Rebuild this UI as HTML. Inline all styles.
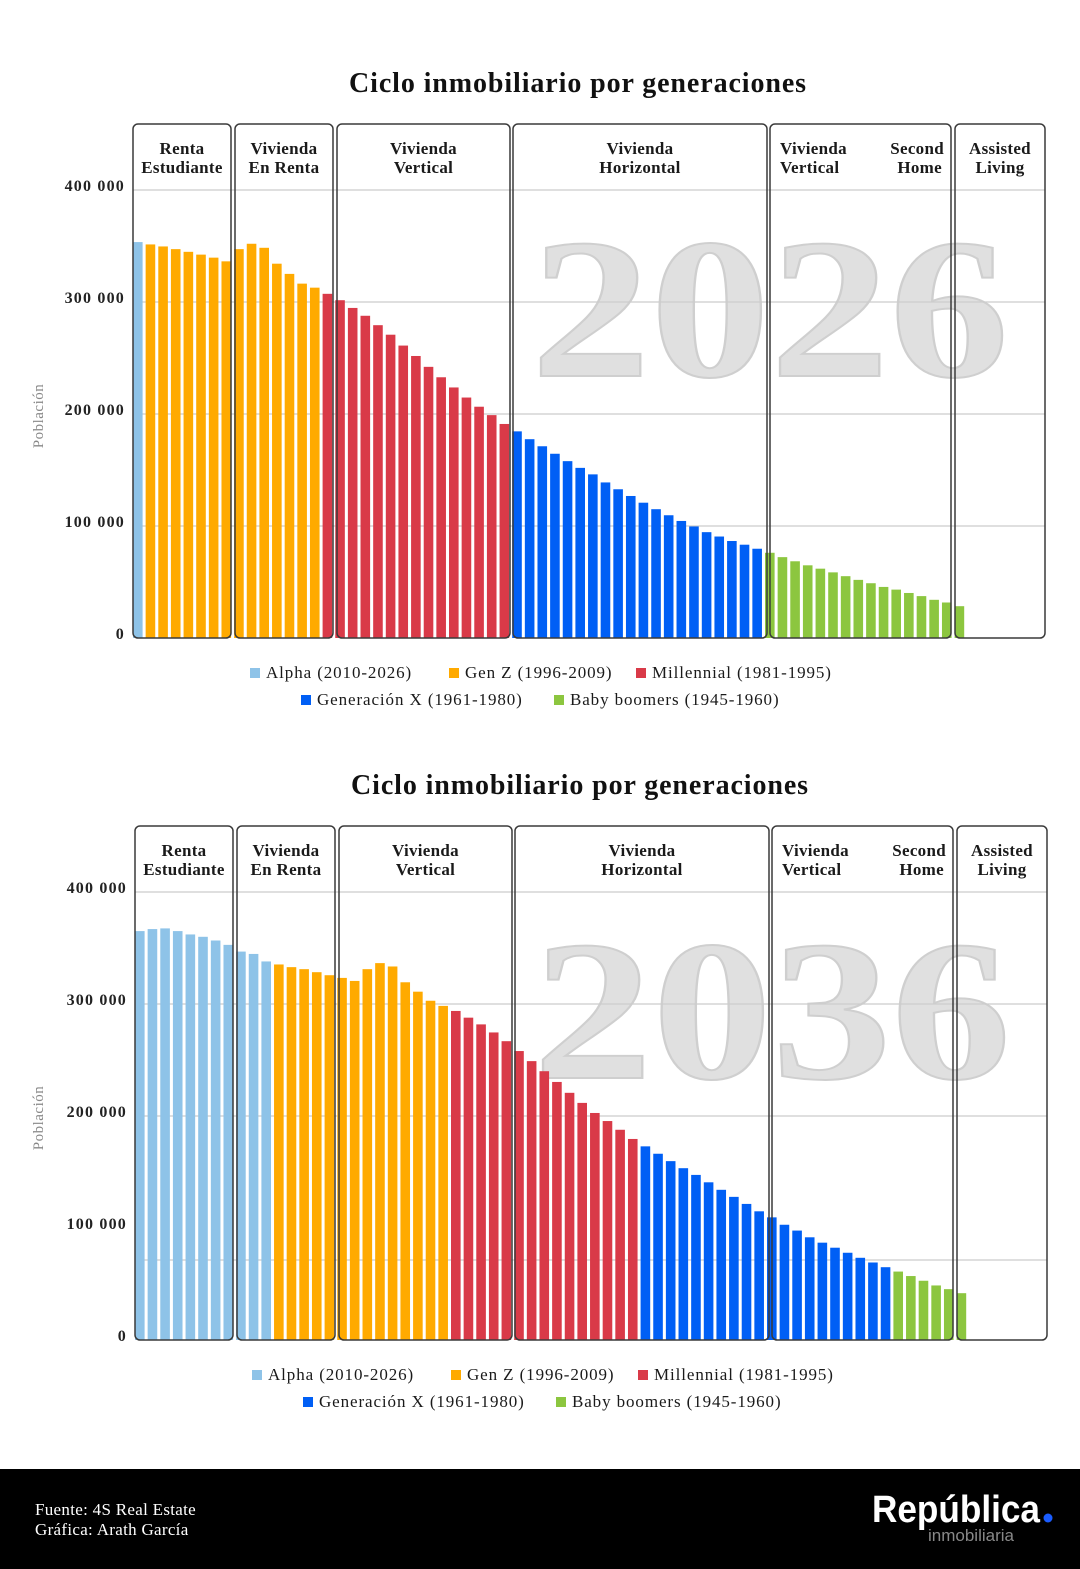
<!DOCTYPE html>
<html><head><meta charset="utf-8">
<style>
html,body{margin:0;padding:0;background:#fff;}
svg{display:block;}
text{font-family:"Liberation Serif","DejaVu Serif",serif;}
</style></head>
<body>
<svg id="root" width="1080" height="1569" viewBox="0 0 1080 1569" xmlns="http://www.w3.org/2000/svg">
<rect x="0" y="0" width="1080" height="1569" fill="#fff"/>
<g id="c1"></g>
<g id="c2"></g>
<g>
<rect x="0" y="1469" width="1080" height="100" fill="#000"/>
<text x="35" y="1515" fill="#fff" font-size="17" letter-spacing="0.3">Fuente: 4S Real Estate</text>
<text x="35" y="1535" fill="#fff" font-size="17" letter-spacing="0.3">Gráfica: Arath García</text>
<text x="872" y="1522" fill="#fff" font-size="38" font-weight="bold" textLength="168" lengthAdjust="spacingAndGlyphs" style="font-family:'Liberation Sans',sans-serif">República</text>
<circle cx="1048" cy="1518" r="4.5" fill="#1a5cff"/>
<text x="928" y="1541" fill="#888" font-size="17" style="font-family:'Liberation Sans',sans-serif">inmobiliaria</text>
</g>
</svg>
<script>
// ---- data ----
const generations = ["Alpha (2010-2026)","Gen Z (1996-2009)","Millennial (1981-1995)","Generación X (1961-1980)","Baby boomers (1945-1960)"];
const genColors = ["#8ec3e8","#ffaa00","#d93a48","#005ff5","#8cc63f"];
const yTicks = [0,100000,200000,300000,400000];
const yTickLabels = ["0","100 000","200 000","300 000","400 000"];
const stageLabels = [["Renta","Estudiante"],["Vivienda","En Renta"],["Vivienda","Vertical"],["Vivienda","Horizontal"],["Vivienda","Vertical"],["Assisted","Living"]];
// 2026 population by age (thousands), grouped by generation
const alpha2026 = [353.5];
const genZ2026 = [351.4,349.6,347.2,344.8,342.3,339.6,336.3,347.2,352,348.4,334.2,325.1,316.4,312.8];
const mill2026 = [307.3,301.6,294.7,287.7,279.3,270.8,261.1,251.8,242.1,232.8,223.7,214.7,206.5,199,191.1];
const genX2026 = [184.5,177.5,171.2,164.5,157.9,151.9,146.1,138.9,132.8,126.8,120.8,115,109.6,104.5,99.6,94.5,90.6,86.6,83.3,79.7];
const boom2026 = [76.1,72.2,68.5,64.9,61.9,58.6,55.2,51.9,48.9,45.6,43.2,40.2,37.4,34.1,31.7,28.4];
// 2036
const alpha2036 = [365.1,366.9,367.5,365.1,362.1,360,356.7,352.8,346.8,344.7,338];
const genZ2036 = [335.3,332.9,331.1,328.4,325.7,323.3,320.6,331.1,336.5,333.5,319.4,311,302.9,298.3];
const mill2036 = [293.8,287.8,281.8,274.6,266.8,258,249,240,230.4,220.7,211.7,202.7,195.5,187.7,179.5];
const genX2036 = [172.9,166.3,159.7,153.4,147.4,140.8,134.1,127.8,121.5,114.9,109.5,102.9,97.7,91.7,86.9,82.4,77.9,73.4,69.2,65];
const boom2036 = [61.1,57.1,52.9,48.7,45.4,41.8];

const NS="http://www.w3.org/2000/svg";
function mk(parent,tag,attrs,txt){const e=document.createElementNS(NS,tag);for(const k in attrs)e.setAttribute(k,attrs[k]);if(txt!==undefined)e.textContent=txt;parent.appendChild(e);return e;}

function drawChart(g,cfg){
  const {top,x0,year,series,extraGrid}=cfg;
  const zeroY=top+514, unit=112/100000;
  const yScale=v=>zeroY-v*unit;
  const xEnd=x0+912;
  const t=mk(g,"text",{x:x0+445,y:top-32,"text-anchor":"middle","font-size":"28","font-weight":"bold",fill:"#111","letter-spacing":"0.9"},"Ciclo inmobiliario por generaciones");
  
  
  const yr=mk(g,"text",{x:x0+398,y:top+252,"font-size":"200","font-weight":"bold","textLength":"478","lengthAdjust":"spacingAndGlyphs",fill:"#e0e0e0",stroke:"#cfcfcf","stroke-width":"2"},year);
  
  
  const grids=yTicks.slice(1).map(v=>yScale(v));
  if(extraGrid){grids[0]=extraGrid;}
  grids.forEach(gy=>{
    const l=mk(g,"line",{x1:x0,x2:xEnd,y1:gy,y2:gy,stroke:"#cccccc","stroke-width":"1.2"});
    
    
  });
  yTicks.forEach((v,i)=>{
    const tl=mk(g,"text",{x:x0-8,y:yScale(v)+1,"text-anchor":"end","font-size":"16","font-weight":"bold",fill:"#222","letter-spacing":"1.2"},yTickLabels[i]);
    
    
  });
  const yt=mk(g,"text",{transform:`translate(43,${top+292}) rotate(-90)`,"text-anchor":"middle","font-size":"15",fill:"#888","letter-spacing":"0.5"},"Población");
  
  
  const pitch=12.64, bw=9.6;
  let idx=0;
  series.forEach((arr,gi)=>{
    arr.forEach(v=>{
      const val=v*1000;
      const b=mk(g,"rect",{x:x0+idx*pitch,y:yScale(val),width:bw,height:zeroY-yScale(val),fill:genColors[gi]});
      
      
      idx++;
    });
  });
  const boxes=[[0,98],[102,200],[204,377],[380,634],[637,818],[822,912]];
  const sAttr={"font-size":"17","font-weight":"bold",fill:"#1a1a1a","letter-spacing":"0.3"};
  boxes.forEach((bx,i)=>{
    const r=mk(g,"rect",{x:x0+bx[0],y:top,width:bx[1]-bx[0],height:514,rx:5,fill:"none",stroke:"#3a3a3a","stroke-width":"1.5"});
    
    
    const cx=x0+(bx[0]+bx[1])/2;
    if(i===4){
      const a=mk(g,"text",Object.assign({x:x0+bx[0]+10,y:top+30},sAttr),"Vivienda");
      
      const b2=mk(g,"text",Object.assign({x:x0+bx[0]+10,y:top+49},sAttr),"Vertical");
      
      const c=mk(g,"text",Object.assign({x:x0+bx[1]-7,y:top+30,"text-anchor":"end"},sAttr),"Second");
      
      const d=mk(g,"text",Object.assign({x:x0+bx[1]-9,y:top+49,"text-anchor":"end"},sAttr),"Home");
      
    } else {
      stageLabels[i].forEach((s,k)=>{
        const tx=mk(g,"text",Object.assign({x:cx,y:top+30+k*19,"text-anchor":"middle"},sAttr),s);
        
        
      });
    }
  });
  const leg=[[250,0,0],[449,0,1],[636,0,2],[301,27,3],[554,27,4]];
  leg.forEach(L=>{
    const ly=top+549+L[1];
    const sq=mk(g,"rect",{x:L[0]+(x0-133),y:ly-5,width:10,height:10,fill:genColors[L[2]]});
    
    
    const lt=mk(g,"text",{x:L[0]+(x0-133)+16,y:ly+5,"font-size":"17",fill:"#1a1a1a","letter-spacing":"0.9"},generations[L[2]]);
    
    
  });
}
drawChart(document.getElementById('c1'),{top:124,x0:133,year:"2026",series:[alpha2026,genZ2026,mill2026,genX2026,boom2026]});
drawChart(document.getElementById('c2'),{top:826,x0:135,year:"2036",series:[alpha2036,genZ2036,mill2036,genX2036,boom2036],extraGrid:1260});
</script>
</body></html>
